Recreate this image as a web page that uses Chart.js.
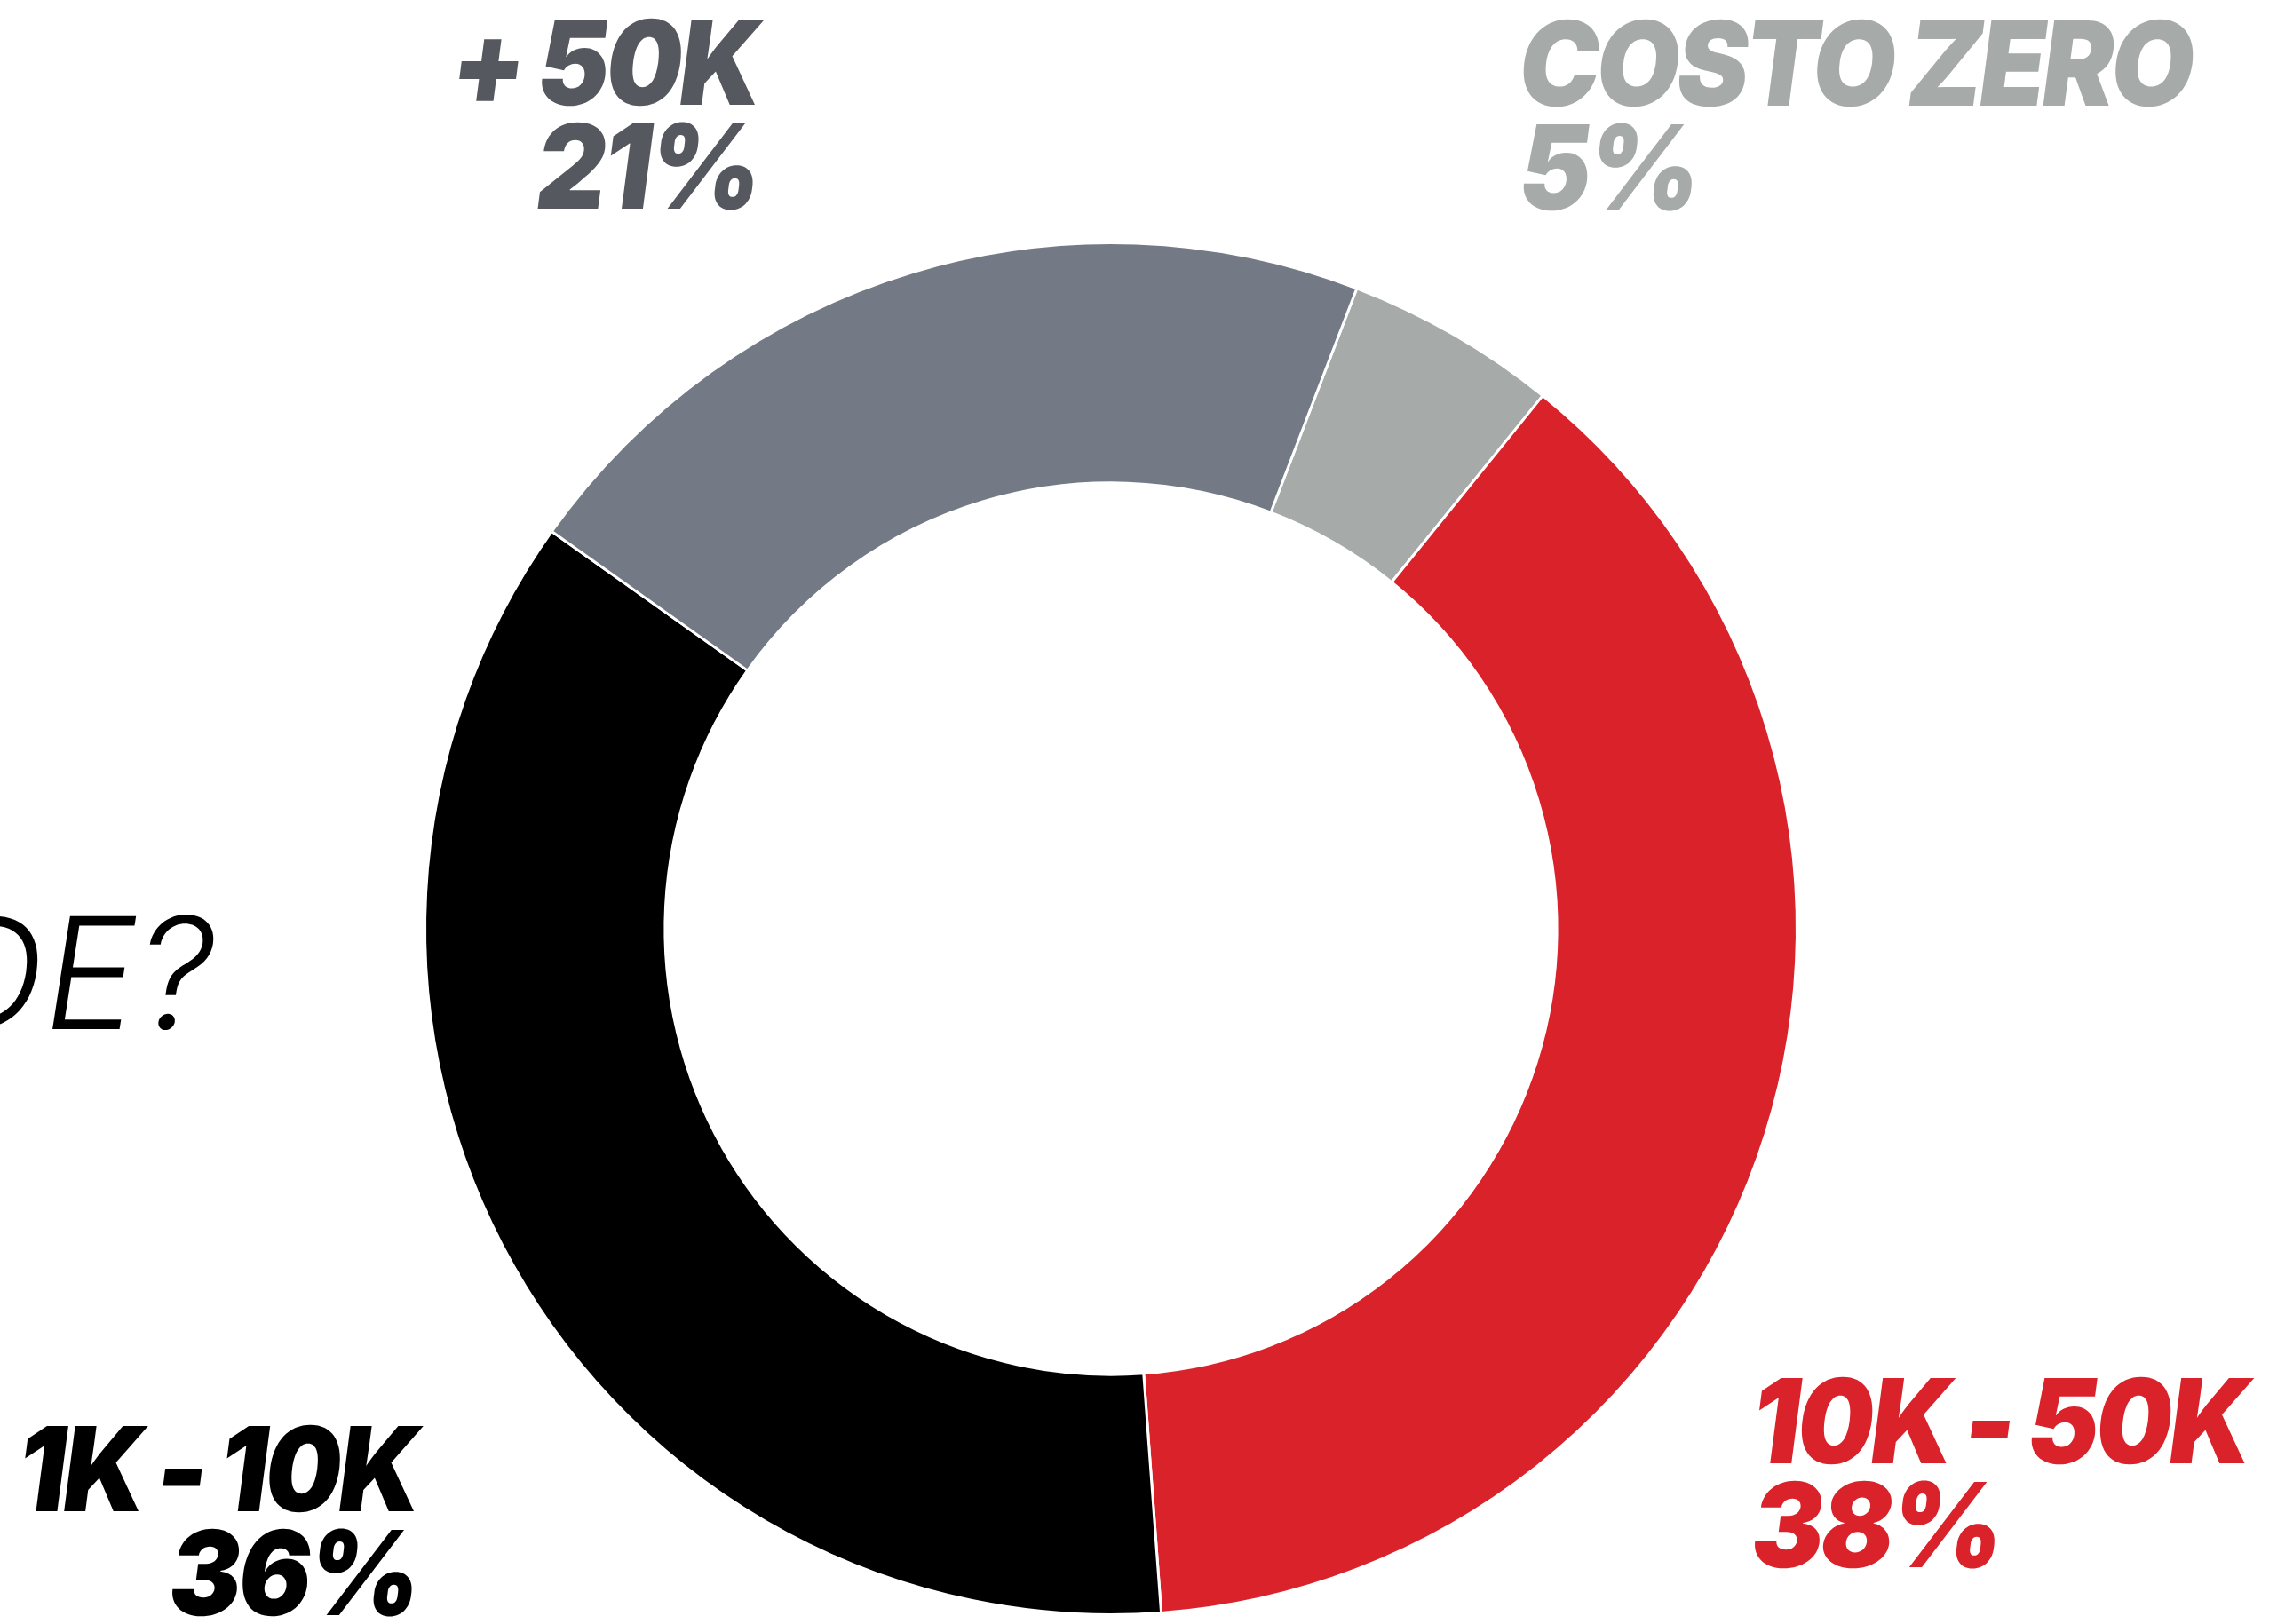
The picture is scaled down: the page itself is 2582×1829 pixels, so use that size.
<!DOCTYPE html>
<html>
<head>
<meta charset="utf-8">
<script src="https://cdn.jsdelivr.net/npm/chart.js@4/dist/chart.umd.min.js"></script>
<style>
  html, body { margin: 0; padding: 0; background: #ffffff; }
  #wrap { width: 2582px; height: 1829px; position: relative; }
</style>
</head>
<body>
<div id="wrap"><canvas id="c" width="2582" height="1829"></canvas></div>
<script>
// Spending brackets and their shares (%)
const categories = ['COSTO ZERO', '10K - 50K', '1K - 10K', '+ 50K'];
const shares = [5, 38, 36, 21];
const sliceColors = ['#a6aaa9', '#d9222a', '#000000', '#737a86'];
const labelColors = ['#a6aaa9', '#d9222a', '#000000', '#55595f'];
const questionTail = 'DE?';

// Where each bracket label sits: anchor point and alignment
const labelSpots = [
  { x: 1706, y: 119, align: 'left' },
  { x: 1968, y: 1648, align: 'left' },
  { x: 465, y: 1702, align: 'right' },
  { x: 849, y: 118, align: 'right' }
];

// draw text slanted (and slightly narrowed) around its baseline anchor
function slantText(ctx, text, x, y, skew, squeeze) {
  ctx.save();
  ctx.translate(x, y);
  ctx.transform(squeeze, 0, -skew, 1, 0, 0);
  ctx.fillText(text, 0, 0);
  ctx.restore();
}

const bracketLabels = {
  id: 'bracketLabels',
  afterDraw(chart) {
    const ctx = chart.ctx;
    ctx.save();
    ctx.textBaseline = 'alphabetic';
    ctx.font = '900 132px Inter';
    ctx.letterSpacing = '-4px';
    ctx.wordSpacing = '-4px';
    categories.forEach((name, i) => {
      const s = labelSpots[i];
      ctx.fillStyle = labelColors[i];
      ctx.textAlign = s.align;
      slantText(ctx, name, s.x, s.y, 0.13, 0.92);
      slantText(ctx, shares[i] + '%', s.x, s.y + 117, 0.13, 0.92);
    });
    // trailing part of the question heading on the left edge
    ctx.letterSpacing = '0px';
    ctx.wordSpacing = '0px';
    ctx.font = '300 175px Inter';
    ctx.fillStyle = '#000000';
    ctx.textAlign = 'right';
    slantText(ctx, questionTail, 234, 1159, 0.155, 1);
    ctx.restore();
  }
};

new Chart(document.getElementById('c'), {
  type: 'doughnut',
  data: {
    labels: categories,
    datasets: [{
      data: shares,
      backgroundColor: sliceColors,
      borderColor: '#ffffff',
      borderWidth: 3,
      hoverOffset: 0
    }]
  },
  options: {
    responsive: false,
    animation: false,
    rotation: 21,
    cutout: '65%',
    layout: { padding: { left: 477, right: 557, top: 272, bottom: 9 } },
    plugins: {
      legend: { display: false },
      tooltip: { enabled: false }
    }
  },
  plugins: [bracketLabels]
});
</script>
</body>
</html>
